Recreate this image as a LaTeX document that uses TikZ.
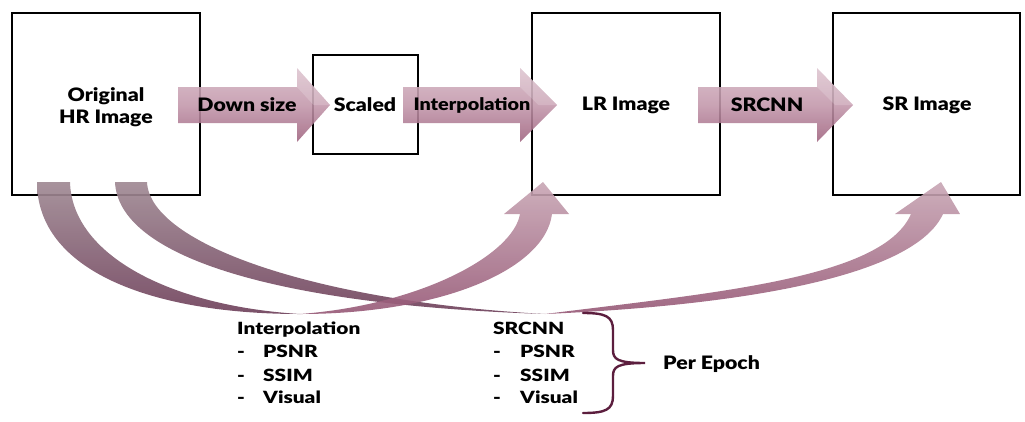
\documentclass[tikz,border=0pt]{standalone}
\usepackage{fontspec}
\setmainfont{Lato}
\newfontfamily\toplblfont{Lato Black}[FakeStretch=1.15]
\newfontfamily\listfont{Lato Black}[FakeStretch=1.24]
\usetikzlibrary{calc}
\definecolor{arTop}{RGB}{214,184,197}
\definecolor{arMid}{RGB}{194,150,170}
\definecolor{arBot}{RGB}{158,98,126}
\definecolor{tlTop}{RGB}{160,138,148}
\definecolor{tlBot}{RGB}{112,66,92}
\definecolor{rsTop}{RGB}{200,166,180}
\definecolor{rsBot}{RGB}{150,88,118}
\definecolor{braceCol}{RGB}{92,30,62}
\tikzset{
  imgbox/.style={draw=black, line width=2.6pt, fill=none, align=center, inner sep=0pt},
  lbl/.style={font=\toplblfont\fontsize{18.5}{22.5}\selectfont, inner sep=0pt, align=center},
  narrowlbl/.style={font=\toplblfont\fontsize{17.2}{21}\selectfont, inner sep=0pt, align=center},
  small/.style={font=\listfont\fontsize{16.8}{19}\selectfont, inner sep=0pt, anchor=base west},
  blockfill/.style={top color=arTop, bottom color=arBot, middle color=arMid, fill opacity=0.88, draw=none},
  tailfill/.style={top color=tlTop, bottom color=tlBot, fill opacity=0.92, draw=none},
  risefill/.style={top color=rsTop, bottom color=rsBot, fill opacity=0.9, draw=none},
}
% straight block arrow: body start, head start, tip
\newcommand\blkarrow[3]{%
  \shade[blockfill] (#1,87) -- (#2,87) -- (#2,68) -- (#3,105) -- (#2,142) -- (#2,123) -- (#1,123) -- cycle;
  \fill[white, fill opacity=0.18] (#2,68) -- (#3,105) -- ($(#2,105)!0.5!(#3,105)$) -- (#2,87) -- cycle;
}
\begin{document}
\begin{tikzpicture}[x=1pt,y=-1pt]
\useasboundingbox (0,0) rectangle (1025,421);

% image boxes
\node[imgbox, minimum width=188pt, minimum height=182pt] (hr) at (106,104) {};
\node[imgbox, minimum width=105pt, minimum height=99pt] (sc) at (365.5,104.5) {};
\node[imgbox, minimum width=188pt, minimum height=182pt] (lr) at (626,104) {};
\node[imgbox, minimum width=187pt, minimum height=182pt] (sr) at (926.5,104) {};

% straight processing arrows
\blkarrow{178}{297}{330}
\blkarrow{403}{520}{557}
\blkarrow{698}{817}{853}

% curved evaluation arrows: tails leaving the HR box
\shade[tailfill] (37,182) .. controls (37,270) and (150,314) .. (300,314)
   .. controls (170,306) and (72,255) .. (70,182) -- cycle;
\shade[tailfill] (115,182) .. controls (118,255) and (270,305) .. (545,314)
   .. controls (320,302) and (150,245) .. (147,182) -- cycle;

% rising parts ending in arrow heads
\shade[risefill] (300,314) .. controls (440,314) and (545,270) .. (552,214)
   -- (569,214) -- (543,182) -- (504,214) -- (520,214)
   .. controls (513,255) and (420,305) .. (300,314) -- cycle;
\shade[risefill] (545,314) .. controls (750,305) and (915,275) .. (943,214)
   -- (960,214) -- (941,182) -- (895,214) -- (911,214)
   .. controls (883,278) and (720,292) .. (545,314) -- cycle;

% texts
\node[lbl] (hrt) at (106,107) {Original\\HR Image};
\node[lbl] (sct) at (365,105) {Scaled};
\node[lbl] (lrt) at (626,105) {LR Image};
\node[lbl] (srt) at (927,105) {SR Image};
\node[lbl] (ds) at (247,105) {Down size};
\node[narrowlbl] (ip) at (472,105) {Interpolation};
\node[lbl] (cn) at (767,105) {SRCNN};

% metric lists
\node[small] (ipt) at (237,334) {Interpolation};
\node[small] (d1) at (237,357) {-};
\node[small] (d2) at (237,381) {-};
\node[small] (d3) at (237,403) {-};
\node[small] (m1) at (263,357) {PSNR};
\node[small] (m2) at (263,381) {SSIM};
\node[small] (m3) at (263,403) {Visual};

\node[small] (cnt) at (493,334) {SRCNN};
\node[small] (e1) at (493,357) {-};
\node[small] (e2) at (493,381) {-};
\node[small] (e3) at (493,403) {-};
\node[small] (n1) at (520,357) {PSNR};
\node[small] (n2) at (520,381) {SSIM};
\node[small] (n3) at (520,403) {Visual};

% brace
\coordinate (bt) at (583,313);
\coordinate (bb) at (583,413);
\coordinate (bm) at (645,363);
\draw[braceCol, line width=2.4pt, line cap=round]
  (bt) .. controls (605,313) and (613,316) .. (613,330) -- (613,350)
  .. controls (613,359) and (617,363) .. (bm)
  .. controls (617,363) and (613,367) .. (613,376) -- (613,396)
  .. controls (613,410) and (605,413) .. (bb);
\node[lbl, anchor=west] (pe) at (663,364) {Per Epoch};
\end{tikzpicture}
\end{document}
